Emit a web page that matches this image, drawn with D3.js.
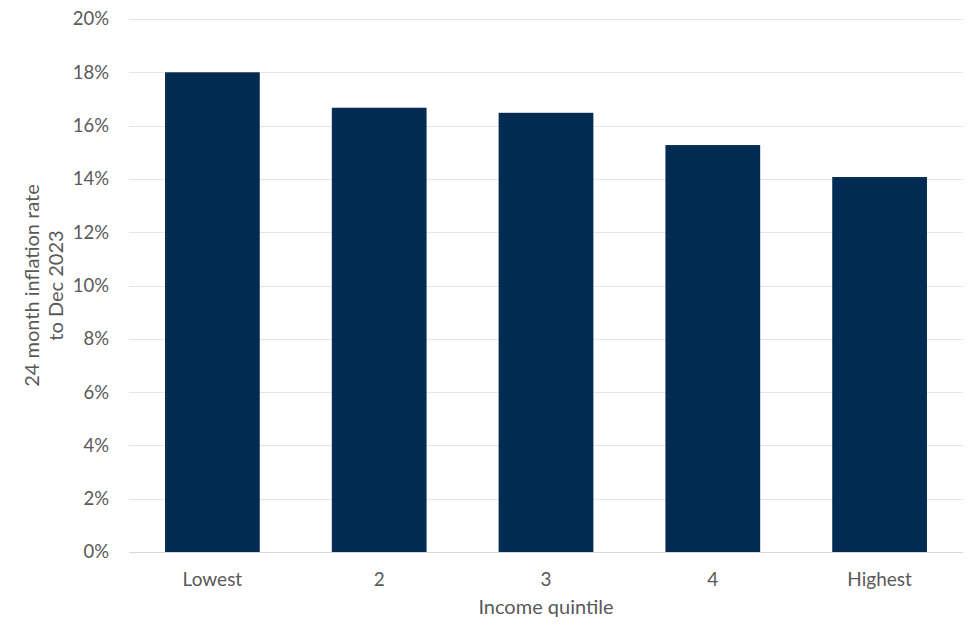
<!DOCTYPE html>
<html><head><meta charset="utf-8">
<script src="https://cdn.jsdelivr.net/npm/d3@7/dist/d3.min.js"></script>
<style>body{margin:0;background:#fff;} text{font-family:Lato, "Open Sans", sans-serif;fill:#595959;}</style>
</head><body>
<svg id="c" width="977" height="639"></svg>
<script>
const categories = ["Lowest", "2", "3", "4", "Highest"];
const values = [18.0, 16.67, 16.48, 15.27, 14.07];
const yTicks = [0, 2, 4, 6, 8, 10, 12, 14, 16, 18, 20];
const yTitle = ["24 month inflation rate", "to Dec 2023"];
const xTitle = "Income quintile";

(function(){
const svg = d3.select("#c");
const mLeft = 129, mRight = 963, mTop = 19, mBottom = 552;
const x = d3.scaleBand().domain(categories).range([mLeft, mRight]).paddingInner(0.432).paddingOuter(0.216);
const y = d3.scaleLinear().domain([0, 20]).range([mBottom, mTop]);

svg.append("g").selectAll("line").data(yTicks).join("line")
  .attr("x1", mLeft).attr("x2", mRight)
  .attr("y1", d => Math.round(y(d)) + 0.5).attr("y2", d => Math.round(y(d)) + 0.5)
  .attr("stroke", d => d === 0 ? "#d9d9d9" : "#e6e6e6").attr("stroke-width", 1);

svg.append("g").selectAll("text").data(yTicks).join("text")
  .attr("x", 109).attr("y", d => y(d)).attr("dy", "0.35em")
  .attr("text-anchor", "end").attr("font-size", 18.5).text(d => d + "%");

svg.append("g").selectAll("rect").data(values).join("rect")
  .attr("x", (d, i) => x(categories[i])).attr("width", x.bandwidth())
  .attr("y", d => y(d)).attr("height", d => y(0) - y(d))
  .attr("fill", "#022c51");

svg.append("g").selectAll("text").data(categories).join("text")
  .attr("x", d => x(d) + x.bandwidth() / 2).attr("y", 586)
  .attr("text-anchor", "middle").attr("font-size", 19).text(d => d);

svg.append("text").attr("x", (mLeft + mRight) / 2).attr("y", 614)
  .attr("text-anchor", "middle").attr("font-size", 20).text(xTitle);

const yt = svg.append("text").attr("transform", "translate(0," + ((mTop + mBottom) / 2) + ") rotate(-90)")
  .attr("text-anchor", "middle").attr("font-size", 20);
yTitle.forEach((t, i) => yt.append("tspan").attr("x", 0).attr("y", 39 + i * 24).text(t));
})();
</script>
</body></html>
